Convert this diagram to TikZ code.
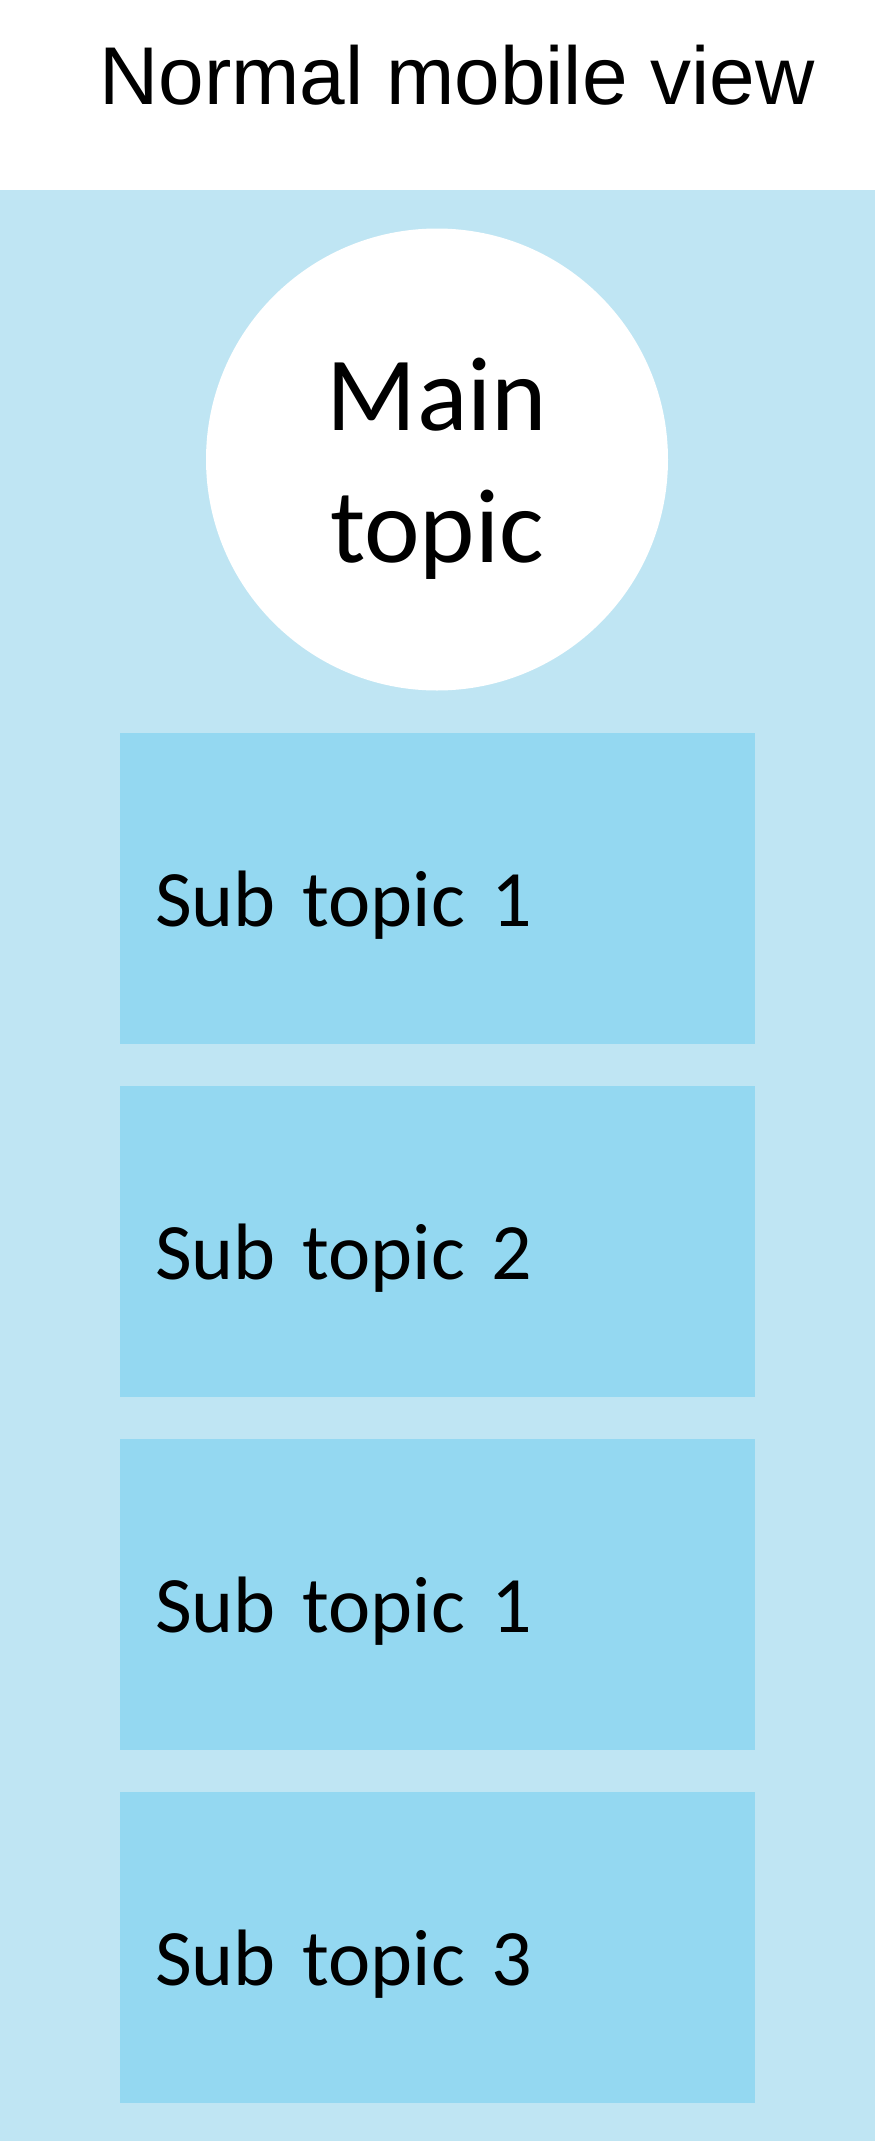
\documentclass[tikz,border=0pt]{standalone}
\usepackage{fontspec}
\usepackage{tikz}
\usetikzlibrary{positioning}
\newfontfamily\titlefont{Liberation Sans}
\newfontfamily\topicfont{Carlito}
\definecolor{pageBlue}{RGB}{191,229,243}
\definecolor{boxBlue}{RGB}{148,216,241}
\tikzstyle{titleText} = [font=\titlefont\fontsize{61.5}{74}\selectfont, inner sep=0]
\tikzstyle{mainCircle} = [shape = circle, fill = white, minimum size = 346.5pt, inner sep = 0,
  align = center, text height = 180pt, text depth = 26.25pt,
  font=\topicfont\fontsize{79}{99}\selectfont]
\tikzstyle{subBox} = [shape = rectangle, fill = boxBlue, minimum width = 476.25pt, minimum height = 233.25pt,
  text width = 423.75pt, inner xsep = 26.25pt, inner ysep = 0, align = left,
  text height = 72pt, text depth = 15pt, font=\topicfont\fontsize{60}{72}\selectfont]

\begin{document}
\begin{tikzpicture}[x=0.75pt, y=-0.75pt]
					\useasboundingbox (0,0) rectangle (875,2141);
					\fill[pageBlue] (0,190) rectangle (875,2141);
					\node (title) [titleText, anchor = base] at (457,104) {
						Normal mobile view
					};
					\node (main) [mainCircle] at (437,459.5) {
						Main\\topic
					};
					\node (sub1) [subBox, anchor = north west] at (120,733) {
						Sub topic 1
					};
					\node (sub2) [subBox, below = 31pt of sub1] {
						Sub topic 2
					};
					\node (sub3) [subBox, below = 31pt of sub2] {
						Sub topic 1
					};
					\node (sub4) [subBox, below = 31pt of sub3] {
						Sub topic 3
					};
\end{tikzpicture}
\end{document}
